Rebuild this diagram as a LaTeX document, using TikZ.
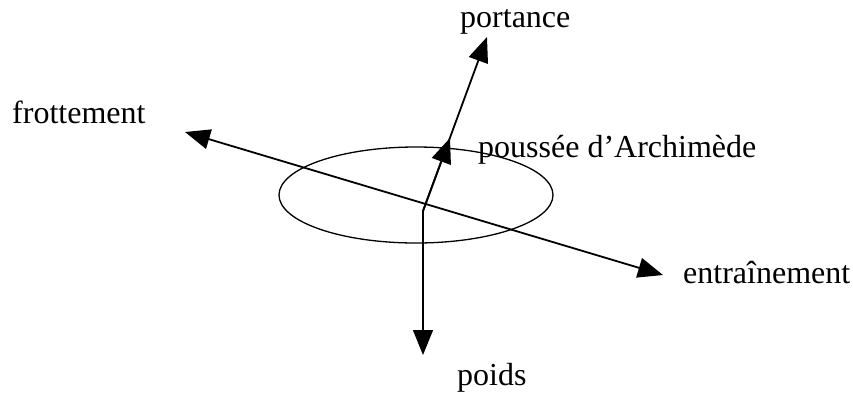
\documentclass[tikz,border=0pt]{standalone}
\usepackage{fontspec}
\setmainfont{Liberation Serif}
\usetikzlibrary{arrows.meta}

\begin{document}
\begin{tikzpicture}[
    x=1pt, y=-1pt,
    font=\fontsize{32}{36}\selectfont,
    >={Triangle[length=25pt, width=20pt]},
    force/.style={->, line width=1.8pt},
    thinforce/.style={->, line width=1.3pt},
    body/.style={line width=1.3pt},
    lbl/.style={anchor=base west, inner sep=0pt}
]
    \useasboundingbox (0,0) rectangle (853,397);

    % points of the drawing
    \coordinate (base) at (423,211);
    \coordinate (up) at (487,37);
    \coordinate (push) at (450,138);
    \coordinate (down) at (423,355);
    \coordinate (back) at (185,132);
    \coordinate (front) at (663,275);

    % the body
    \draw[body] (416,195) ellipse [x radius=137, y radius=48];

    % forces
    \draw[force] (base) -- (up);
    \draw[force] (base) -- (push);
    \draw[thinforce] (base) -- (down);
    \draw[force, <->] (back) -- (front);

    % labels
    \node[lbl] (portance) at (460,27) {portance};
    \node[lbl] (frottement) at (12,123) {frottement};
    \node[lbl] (poussee) at (478,157) {poussée d’Archimède};
    \node[lbl] (entrainement) at (683,283) {entraînement};
    \node[lbl] (poids) at (457,385) {poids};
\end{tikzpicture}
\end{document}
